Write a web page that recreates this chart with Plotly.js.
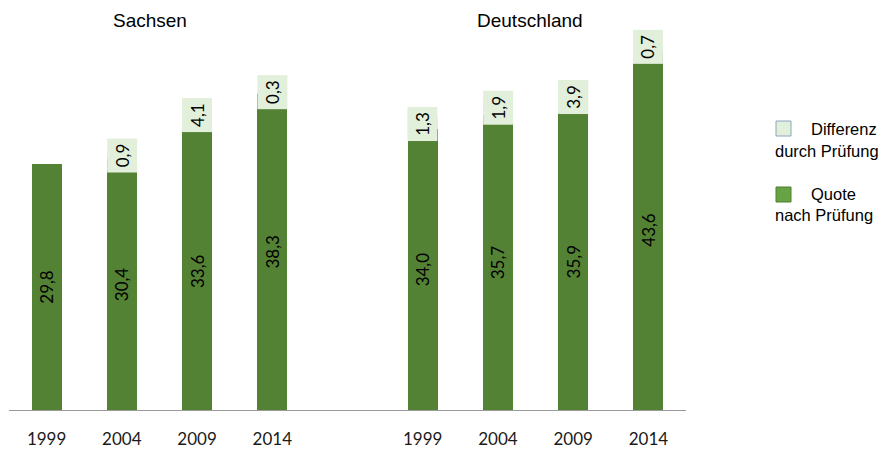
<!DOCTYPE html>
<html>
<head>
<meta charset="utf-8">
<script src="https://cdn.plot.ly/plotly-3.0.1.min.js"></script>
<style>html,body{margin:0;padding:0;background:#fff;}#chart{width:890px;height:449px;}</style>
</head>
<body>
<div id="chart"></div>
<script>
// ---- data ----
const positions = [0, 1, 2, 3, 5, 6, 7, 8];
const years = ['1999', '2004', '2009', '2014', '1999', '2004', '2009', '2014'];
const quote = [29.8, 30.4, 33.6, 38.3, 34.0, 35.7, 35.9, 43.6];
const diff = [0, 0.9, 4.1, 0.3, 1.3, 1.9, 3.9, 0.7];
const groupTitles = ['Sachsen', 'Deutschland'];
const groupTitleX = [150, 530];
const legendNames = ['Differenz<br>durch Prüfung', 'Quote<br>nach Prüfung'];

const fmt = v => v.toFixed(1).replace('.', ',');

// ---- layout helpers ----
const W = 890, H = 449;
const M = {l: 9, r: 204, t: 10, b: 39};
const pw = W - M.l - M.r, ph = H - M.t - M.b;
const px = x => (x - M.l) / pw;
const py = y => (H - M.b - y) / ph;

const GREEN = '#548235';
const LIGHT = '#E2EFDA';
const labelFont = {family: 'Lato, Calibri, sans-serif', size: 17, color: '#000'};
const arial = 'Liberation Sans, Arial, sans-serif';

const traces = [
  {
    type: 'bar', x: positions, y: quote, width: 0.4,
    marker: {color: GREEN, line: {width: 0}},
    text: quote.map(fmt), textposition: 'inside', insidetextanchor: 'middle',
    textangle: -90, textfont: labelFont, constraintext: 'none',
    hoverinfo: 'skip', showlegend: false
  },
  {
    type: 'bar', x: positions, y: diff, width: 0.4,
    marker: {color: LIGHT, line: {width: 0}},
    textposition: 'none', hoverinfo: 'skip', showlegend: false
  }
];

const annotations = [];
positions.forEach((p, i) => {
  if (diff[i] > 0) {
    annotations.push({
      x: p, y: quote[i] + diff[i] / 2, xref: 'x', yref: 'y',
      text: fmt(diff[i]), showarrow: false, textangle: -90,
      bgcolor: LIGHT, borderpad: 0, width: 33, height: 29,
      font: labelFont
    });
  }
});
groupTitles.forEach((t, i) => {
  annotations.push({
    x: px(groupTitleX[i]), y: py(20), xref: 'paper', yref: 'paper',
    text: t, showarrow: false, font: {family: arial, size: 19, color: '#000'},
    xanchor: 'center', yanchor: 'middle'
  });
});
// legend text
const legLines = legendNames.map(n => n.split('<br>'));
const legY = [[129, 151], [194, 215]];
legLines.forEach((lines, i) => {
  annotations.push({
    x: px(809), y: py(legY[i][0]), xref: 'paper', yref: 'paper',
    text: lines[0], showarrow: false, xanchor: 'left', yanchor: 'middle',
    font: {family: arial, size: 16.5, color: '#000'}
  });
  annotations.push({
    x: px(773), y: py(legY[i][1]), xref: 'paper', yref: 'paper',
    text: lines[1], showarrow: false, xanchor: 'left', yanchor: 'middle',
    font: {family: arial, size: 16.5, color: '#000'}
  });
});

const shapes = [
  {type: 'rect', xref: 'paper', yref: 'paper', x0: px(776), x1: px(791), y0: py(136), y1: py(121),
   fillcolor: LIGHT, line: {color: '#8aa6bf', width: 1}},
  {type: 'rect', xref: 'paper', yref: 'paper', x0: px(776), x1: px(791), y0: py(202), y1: py(187),
   fillcolor: '#66a343', line: {color: '#4f7f30', width: 1}}
];

const layout = {
  width: W, height: H,
  margin: M,
  barmode: 'stack',
  paper_bgcolor: '#fff', plot_bgcolor: '#fff',
  showlegend: false,
  xaxis: {
    range: [-0.5, 8.5], tickmode: 'array', tickvals: positions, ticktext: years,
    showgrid: false, zeroline: false, showline: true, linecolor: '#999999', linewidth: 1,
    ticks: '', ticklen: 0, ticklabelstandoff: 14,
    tickfont: {family: 'Lato, Calibri, sans-serif', size: 17, color: '#1a1a1a'},
    fixedrange: true
  },
  yaxis: {
    range: [0, ph / 8.26], showgrid: false, zeroline: false, showline: false,
    showticklabels: false, ticks: '', fixedrange: true
  },
  annotations: annotations,
  shapes: shapes
};

Plotly.newPlot('chart', traces, layout, {displayModeBar: false, staticPlot: true});
</script>
</body>
</html>
